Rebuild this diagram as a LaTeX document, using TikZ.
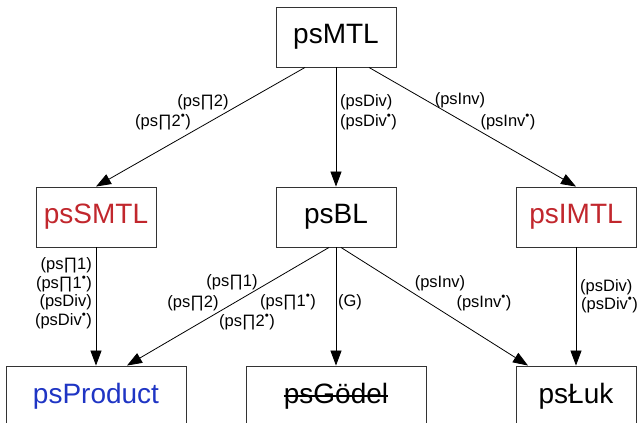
\documentclass[tikz,border=0pt]{standalone}
\usepackage{fontspec}
\setmainfont{Liberation Sans}
\usetikzlibrary{arrows.meta}

\definecolor{logred}{HTML}{C1272D}
\definecolor{logblue}{HTML}{1F35C4}
\newcommand{\prd}{∏}
\newcommand{\bul}{\textsuperscript{•}}

\tikzset{
    logic/.style={draw=black!80,line width=0.9pt,minimum height=60pt,inner sep=0pt,font=\fontsize{28}{34}\selectfont},
    imp/.style={-{Triangle[length=15pt,width=11pt]},line width=0.8pt},
    lab/.style={font=\fontsize{16.5}{18.5}\selectfont,inner sep=0pt}
}

\begin{document}
\begin{tikzpicture}[x=1pt,y=-1pt]
        \useasboundingbox (0,0) rectangle (641,423);
        % the logics
        \node[logic,minimum width=120pt] (mtl) at (336,37) {psMTL};
        \node[logic,minimum width=120pt,text=logred] (smtl) at (96,217) {psSMTL};
        \node[logic,minimum width=120pt] (bl) at (336,217) {psBL};
        \node[logic,minimum width=120pt,text=logred] (imtl) at (576,217) {psIMTL};
        \node[logic,minimum width=180pt,text=logblue] (prod) at (96,396) {psProduct};
        \node[logic,minimum width=180pt] (gdl) at (336,396) {};
        \node[font=\fontsize{28}{34}\selectfont,inner sep=0pt] (gdltxt) at (gdl.center) {psGödel};
        \draw[line width=1.6pt] ([yshift=7.5pt]gdltxt.base west) -- ([yshift=7.5pt]gdltxt.base east);
        \node[logic,minimum width=120pt] (luk) at (576,396) {psŁuk};
        % extensions
        \draw[imp] ([xshift=-31pt]mtl.south) -- (smtl.north);
        \draw[imp] (mtl.south) -- (bl.north);
        \draw[imp] ([xshift=33pt]mtl.south) -- (imtl.north);
        \draw[imp] (smtl.south) -- (prod.north);
        \draw[imp] ([xshift=-7pt]bl.south) -- ([xshift=31pt]prod.north);
        \draw[imp] (bl.south) -- (gdl.north);
        \draw[imp] ([xshift=5pt]bl.south) -- ([xshift=-48pt]luk.north);
        \draw[imp] (imtl.south) -- (luk.north);
        % axioms
        \node[lab] (a1) at (203,102) {(ps\prd2)};
        \node[lab] (a2) at (163,122) {(ps\prd2\bul)};
        \node[lab,anchor=west] (a3) at (340,102) {(psDiv)};
        \node[lab,anchor=west] (a4) at (340,122) {(psDiv\bul)};
        \node[lab] (a5) at (460,100) {(psInv)};
        \node[lab] (a6) at (508,122) {(psInv\bul)};
        \node[lab,anchor=east,align=right] (a7) at (92,293) {(ps\prd1)\\(ps\prd1\bul)\\(psDiv)\\(psDiv\bul)};
        \node[lab] (a8) at (232,282) {(ps\prd1)};
        \node[lab] (a9) at (193,303) {(ps\prd2)};
        \node[lab] (a10) at (288,302) {(ps\prd1\bul)};
        \node[lab] (a11) at (247,322) {(ps\prd2\bul)};
        \node[lab] (a12) at (350,302) {(G)};
        \node[lab] (a13) at (440,283) {(psInv)};
        \node[lab] (a14) at (484,303) {(psInv\bul)};
        \node[lab,anchor=west] (a15) at (580,287) {(psDiv)};
        \node[lab,anchor=west] (a16) at (581,305) {(psDiv\bul)};
    \end{tikzpicture}
\end{document}
